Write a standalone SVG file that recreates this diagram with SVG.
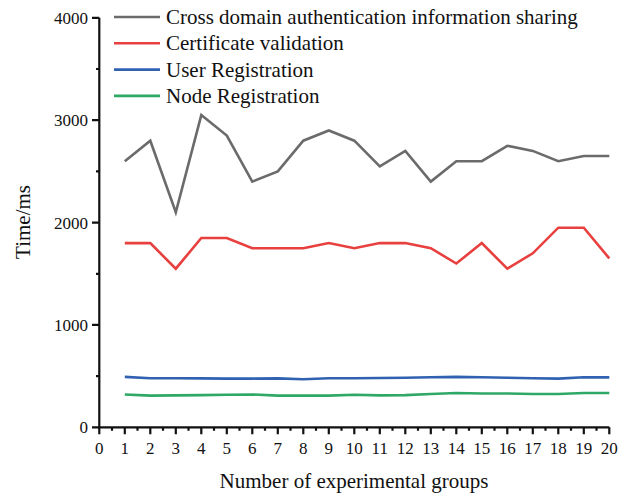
<svg xmlns="http://www.w3.org/2000/svg" width="619" height="496" viewBox="0 0 619 496">
<style>
text{font-family:"Liberation Serif","Times New Roman",serif;fill:#111}
.tl{font-size:17px}
.lg{font-size:21px}
.ax{stroke:#111;stroke-width:2.2;fill:none}
.s{fill:none;stroke-width:2.6;stroke-linejoin:miter}
</style>
<rect width="619" height="496" fill="#fff"/>
<g id="axes">
<path class="ax" d="M99.3,17.8V428.4M98.2,427.3H609.3"/>
<path class="ax" d="M92,17.8H99.3M92,120.2H99.3M92,222.6H99.3M92,324.9H99.3M92,427.3H99.3"/>
<path class="ax" d="M96,69H99.3M96,171.4H99.3M96,273.8H99.3M96,376.1H99.3"/>
<path class="ax" d="M99.3,427.3v7M124.8,427.3v7M150.3,427.3v7M175.8,427.3v7M201.3,427.3v7M226.8,427.3v7M252.3,427.3v7M277.8,427.3v7M303.3,427.3v7M328.8,427.3v7M354.3,427.3v7M379.8,427.3v7M405.3,427.3v7M430.8,427.3v7M456.3,427.3v7M481.8,427.3v7M507.3,427.3v7M532.8,427.3v7M558.3,427.3v7M583.8,427.3v7M609.3,427.3v7"/>
<path class="ax" d="M112,427.3v3.5M137.5,427.3v3.5M163,427.3v3.5M188.5,427.3v3.5M214,427.3v3.5M239.5,427.3v3.5M265,427.3v3.5M290.5,427.3v3.5M316,427.3v3.5M341.5,427.3v3.5M367,427.3v3.5M392.5,427.3v3.5M418,427.3v3.5M443.5,427.3v3.5M469,427.3v3.5M494.5,427.3v3.5M520,427.3v3.5M545.5,427.3v3.5M571,427.3v3.5M596.5,427.3v3.5"/>
<g class="tl" text-anchor="end">
<text x="88" y="23.5">4000</text>
<text x="88" y="126">3000</text>
<text x="88" y="228.5">2000</text>
<text x="88" y="330.5">1000</text>
<text x="88" y="433">0</text>
</g>
<g class="tl" text-anchor="middle">
<text x="99.3" y="454">0</text><text x="124.8" y="454">1</text><text x="150.3" y="454">2</text><text x="175.8" y="454">3</text><text x="201.3" y="454">4</text><text x="226.8" y="454">5</text><text x="252.3" y="454">6</text><text x="277.8" y="454">7</text><text x="303.3" y="454">8</text><text x="328.8" y="454">9</text><text x="354.3" y="454">10</text><text x="379.8" y="454">11</text><text x="405.3" y="454">12</text><text x="430.8" y="454">13</text><text x="456.3" y="454">14</text><text x="481.8" y="454">15</text><text x="507.3" y="454">16</text><text x="532.8" y="454">17</text><text x="558.3" y="454">18</text><text x="583.8" y="454">19</text><text x="609.3" y="454">20</text>
</g>
<text class="lg" x="354" y="488" text-anchor="middle">Number of experimental groups</text>
<text class="lg" x="0" y="0" text-anchor="middle" transform="translate(30,222) rotate(-90)">Time/ms</text>
</g>
<g id="series">
<polyline id="cross" class="s" stroke="#6b6b6d" points="124.8,161.2 150.3,140.7 175.8,212.3 201.3,115.1 226.8,135.6 252.3,181.6 277.8,171.4 303.3,140.7 328.8,130.5 354.3,140.7 379.8,166.3 405.3,150.9 430.8,181.6 456.3,161.2 481.8,161.2 507.3,145.8 532.8,150.9 558.3,161.2 583.8,156.0 609.3,156.0"/>
<polyline id="cert" class="s" stroke="#e8403f" points="124.8,243.1 150.3,243.1 175.8,268.7 201.3,238.0 226.8,238.0 252.3,248.2 277.8,248.2 303.3,248.2 328.8,243.1 354.3,248.2 379.8,243.1 405.3,243.1 430.8,248.2 456.3,263.5 481.8,243.1 507.3,268.7 532.8,253.3 558.3,227.7 583.8,227.7 609.3,258.4"/>
<polyline id="user" class="s" stroke="#3162b2" points="124.8,376.9 150.3,378.2 175.8,378.2 201.3,378.4 226.8,378.6 252.3,378.6 277.8,378.4 303.3,379.2 328.8,378.2 354.3,378.2 379.8,378.0 405.3,377.7 430.8,377.2 456.3,376.9 481.8,377.2 507.3,377.7 532.8,378.2 558.3,378.6 583.8,377.2 609.3,377.4"/>
<polyline id="node" class="s" stroke="#2fa866" points="124.8,394.5 150.3,395.6 175.8,395.4 201.3,395.1 226.8,394.8 252.3,394.5 277.8,395.6 303.3,395.6 328.8,395.6 354.3,394.8 379.8,395.4 405.3,395.1 430.8,394.0 456.3,393.0 481.8,393.5 507.3,393.5 532.8,394.0 558.3,394.0 583.8,393.0 609.3,393.0"/>
</g>
<g id="legend">
<line x1="114" y1="17" x2="160" y2="17" stroke="#6b6b6d" stroke-width="2.6"/>
<line x1="114" y1="43.3" x2="160" y2="43.3" stroke="#e8403f" stroke-width="2.6"/>
<line x1="114" y1="69.6" x2="160" y2="69.6" stroke="#3162b2" stroke-width="2.6"/>
<line x1="114" y1="95.9" x2="160" y2="95.9" stroke="#2fa866" stroke-width="2.6"/>
<text class="lg" x="166" y="24">Cross domain authentication information sharing</text>
<text class="lg" x="166" y="50.3">Certificate validation</text>
<text class="lg" x="166" y="76.6">User Registration</text>
<text class="lg" x="166" y="102.9">Node Registration</text>
</g>
</svg>
